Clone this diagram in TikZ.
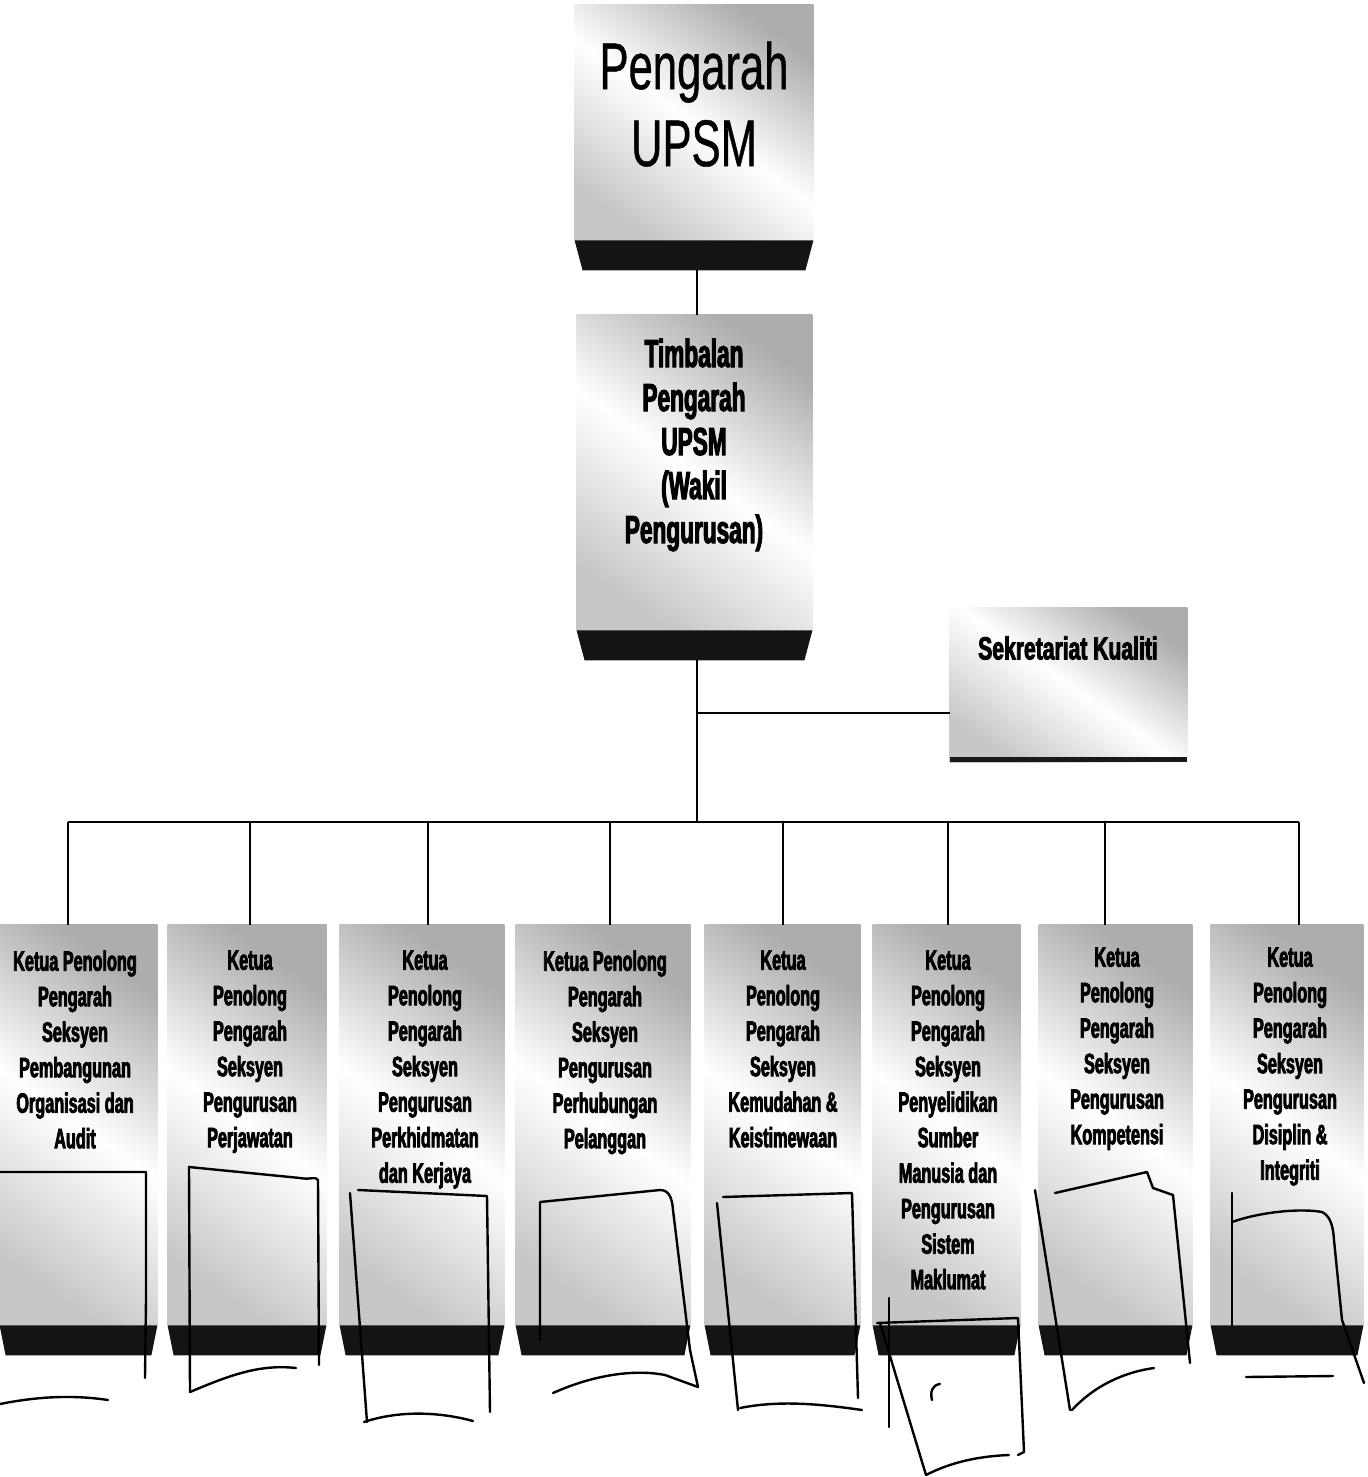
\documentclass[tikz,border=0pt]{standalone}
\usepackage{fontspec}
\setmainfont{Liberation Sans}
\newfontfamily\topf{Liberation Sans}[FakeStretch=0.66,FakeBold=0.6]
\newfontfamily\condf{Liberation Sans}[FakeStretch=0.58,FakeBold=2.6]
\newfontfamily\sekf{Liberation Sans}[FakeStretch=0.66,FakeBold=2.6]
\usetikzlibrary{calc}
\tikzset{boxshade/.style={top color=gray!64, bottom color=gray!44, middle color=white, shading angle=-35}}
\newcommand\drawbase[2]{%
  \shade[boxshade] (#1.north west) rectangle ($(#1.south east)+(0pt,15pt)$);
  \fill[black!92] ($(#1.south west)+(0pt,15pt)$) -- ($(#1.south east)+(0pt,15pt)$) -- ($(#1.south east)+(-#2,0pt)$) -- ($(#1.south west)+(#2,0pt)$) -- cycle;}
\begin{document}
\begin{tikzpicture}[x=0.5pt,y=-0.5pt,
  box/.style={draw=none, inner sep=0pt},
  lowbox/.style={box, minimum height=215pt},
  link/.style={line width=1.2pt, black},
  lowtxt/.style={anchor=north, align=center, inner sep=0pt, font=\condf\bfseries\fontsize{14}{17.75}\selectfont},
  hand/.style={line width=1.2pt, line cap=round, line join=round, black}]
\useasboundingbox[fill=white] (0,0) rectangle (1368,1477);

% boxes
\node[box, minimum width=119pt, minimum height=132.5pt] (dir) at (694,137.5) {};
\node[box, minimum width=117.5pt, minimum height=172.5pt] (dep) at (694.5,487.5) {};
\node[box, minimum width=118.5pt, minimum height=77pt] (sek) at (1068.5,685) {};
\node[lowbox, minimum width=78.5pt] (b1) at (78.5,1140) {};
\node[lowbox, minimum width=79pt] (b2) at (247,1140) {};
\node[lowbox, minimum width=82pt] (b3) at (422,1140) {};
\node[lowbox, minimum width=87pt] (b4) at (603,1140) {};
\node[lowbox, minimum width=77.5pt] (b5) at (782.5,1140) {};
\node[lowbox, minimum width=73.5pt] (b6) at (946.5,1140) {};
\node[lowbox, minimum width=76.5pt] (b7) at (1115.5,1140) {};
\node[lowbox, minimum width=76pt] (b8) at (1287,1140) {};

\drawbase{dir}{4pt}
\drawbase{dep}{4pt}
\foreach \n in {b1,b2,b3,b4,b5,b6,b7,b8}{\drawbase{\n}{3pt}}
\shade[boxshade] (sek.north west) rectangle (sek.south east);
\fill[black!90] ($(sek.south west)+(0pt,2.5pt)$) rectangle (sek.south east);

% texts
\node[align=center, inner sep=0pt, font=\topf\fontsize{33}{38.5}\selectfont] (dirt) at (694,104) {Pengarah\\UPSM};
\node[align=center, inner sep=0pt, font=\condf\bfseries\fontsize{19.5}{22}\selectfont] (dept) at (694,445) {Timbalan\\Pengarah\\UPSM\\(Wakil\\Pengurusan)};
\node[inner sep=0pt, font=\sekf\bfseries\fontsize{16}{19}\selectfont] (sekt) at (1068,648) {Sekretariat Kualiti};

\node[lowtxt] (t1) at (75,950) {Ketua Penolong\\Pengarah\\Seksyen\\Pembangunan\\Organisasi dan\\Audit};
\node[lowtxt] (t2) at (250,950) {Ketua\\Penolong\\Pengarah\\Seksyen\\Pengurusan\\Perjawatan};
\node[lowtxt] (t3) at (425,950) {Ketua\\Penolong\\Pengarah\\Seksyen\\Pengurusan\\Perkhidmatan\\dan Kerjaya};
\node[lowtxt] (t4) at (605,950) {Ketua Penolong\\Pengarah\\Seksyen\\Pengurusan\\Perhubungan\\Pelanggan};
\node[lowtxt] (t5) at (783,950) {Ketua\\Penolong\\Pengarah\\Seksyen\\Kemudahan \&\\Keistimewaan};
\node[lowtxt] (t6) at (948,950) {Ketua\\Penolong\\Pengarah\\Seksyen\\Penyelidikan\\Sumber\\Manusia dan\\Pengurusan\\Sistem\\Maklumat};
\node[lowtxt] (t7) at (1117,947) {Ketua\\Penolong\\Pengarah\\Seksyen\\Pengurusan\\Kompetensi};
\node[lowtxt] (t8) at (1290,947) {Ketua\\Penolong\\Pengarah\\Seksyen\\Pengurusan\\Disiplin \&\\Integriti};

% connectors
\coordinate (d1) at (68,822);
\coordinate (d2) at (250,822);
\coordinate (d3) at (428,822);
\coordinate (d4) at (610,822);
\coordinate (d5) at (783,822);
\coordinate (d6) at (948,822);
\coordinate (d7) at (1105,822);
\coordinate (d8) at (1299,822);
\coordinate (j) at (697,713);
\coordinate (h) at (697,822);
\draw[link] ([xshift=1.5pt]dir.south) -- ([xshift=1.5pt]dir.south |- dep.north);
\draw[link] (j |- dep.south) -- (h);
\draw[link] (j) -- (j -| sek.west);
\draw[link] (d1) -- (d8);
\foreach \i in {1,...,8}{\draw[link] (d\i) -- (d\i |- b\i.north);}

% handwritten marks
\draw[hand] (0,1172) -- (146,1172) -- (146,1300) -- (145,1378);
\draw[hand] (0,1404) .. controls (40,1396) and (75,1395) .. (108,1400);
\draw[hand] (190,1392) -- (189,1167) -- (300,1178) .. controls (310,1180) and (316,1176) .. (318,1180) -- (319,1365);
\draw[hand] (190,1392) .. controls (230,1375) and (260,1364) .. (296,1368);
\draw[hand] (367,1422) -- (350,1193);
\draw[hand] (358,1190) -- (487,1196) -- (490,1412);
\draw[hand] (364,1422) .. controls (400,1410) and (440,1412) .. (473,1421);
\draw[hand] (540,1340) -- (540,1202) -- (660,1190) .. controls (668,1190) and (672,1196) .. (673,1210) -- (690,1350) -- (698,1387);
\draw[hand] (553,1393) .. controls (600,1372) and (640,1370) .. (665,1375) -- (698,1387);
\draw[hand] (738,1410) -- (717,1203);
\draw[hand] (723,1197) -- (852,1193) -- (858,1398);
\draw[hand] (740,1408) .. controls (780,1400) and (820,1404) .. (862,1410);
\draw[hand] (889,1298) -- (889,1427);
\draw[hand] (877,1323) -- (1018,1318) -- (1024,1452) -- (1018,1455);
\draw[hand] (880,1323) -- (926,1475);
\draw[hand] (926,1475) .. controls (955,1460) and (985,1456) .. (1009,1455);
\draw[hand] (932,1400) .. controls (930,1392) and (932,1385) .. (940,1384);
\draw[hand] (1035,1190) -- (1070,1410);
\draw[hand] (1055,1193) -- (1147,1172) -- (1153,1188) -- (1173,1195) -- (1190,1363);
\draw[hand] (1072,1410) .. controls (1095,1385) and (1125,1372) .. (1154,1368);
\draw[hand] (1232,1193) -- (1232,1325);
\draw[hand] (1232,1222) .. controls (1260,1212) and (1300,1208) .. (1322,1212) .. controls (1330,1216) and (1333,1225) .. (1334,1240) -- (1342,1320) -- (1364,1383);
\draw[hand] (1246,1377) -- (1333,1376);
\end{tikzpicture}
\end{document}
